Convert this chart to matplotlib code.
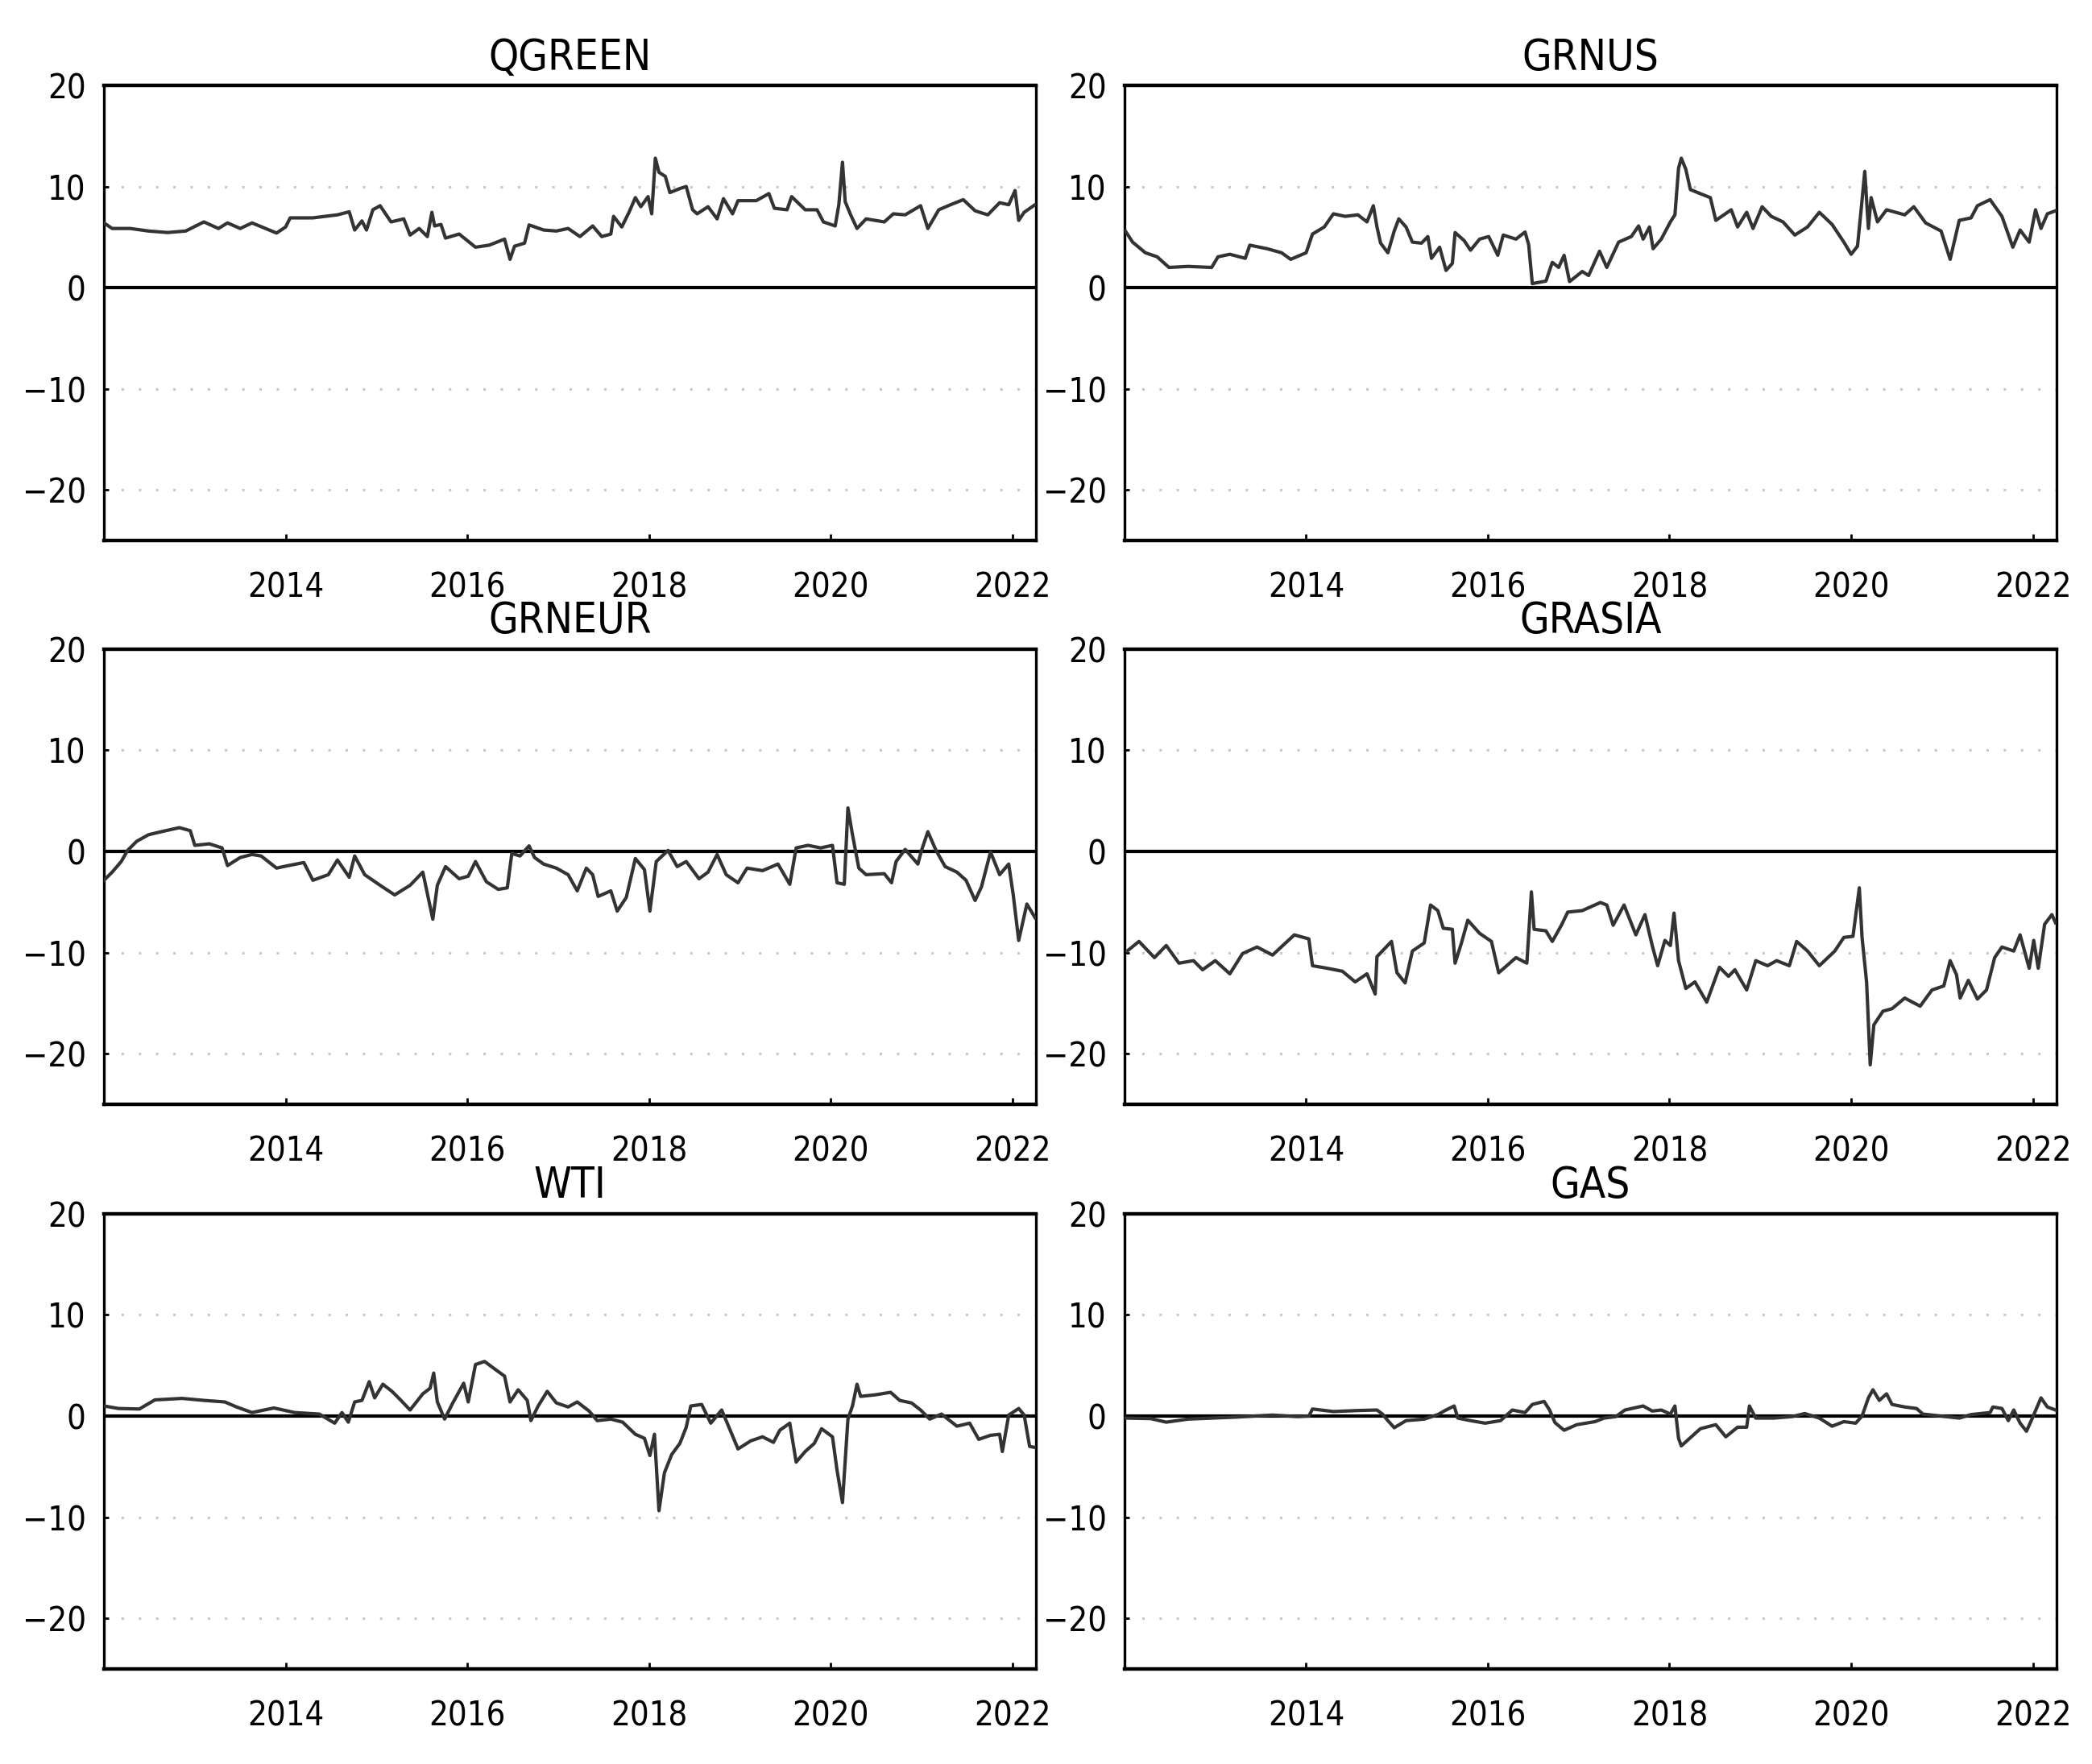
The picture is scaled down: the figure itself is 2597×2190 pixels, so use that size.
import matplotlib

matplotlib.use("Agg")
import matplotlib.pyplot as plt

plt.rcParams["font.family"] = ["DejaVu Sans"]
plt.rcParams["font.stretch"] = "condensed"

# decimal-year dates and values
qgreen_t = [2012.00, 2012.09, 2012.29, 2012.49, 2012.70, 2012.90, 2013.10, 2013.26, 2013.36, 2013.50,
            2013.63, 2013.90, 2014.00, 2014.05, 2014.30, 2014.57, 2014.70, 2014.76, 2014.84, 2014.89,
            2014.96, 2015.04, 2015.16, 2015.30, 2015.37, 2015.47, 2015.56, 2015.61, 2015.64, 2015.71,
            2015.76, 2015.91, 2016.09, 2016.24, 2016.41, 2016.47, 2016.52, 2016.63, 2016.68, 2016.84,
            2016.98, 2017.11, 2017.24, 2017.38, 2017.48, 2017.58, 2017.61, 2017.70, 2017.78, 2017.85,
            2017.91, 2017.99, 2018.03, 2018.07, 2018.11, 2018.18, 2018.23, 2018.34, 2018.41, 2018.48,
            2018.53, 2018.65, 2018.75, 2018.82, 2018.92, 2018.98, 2019.18, 2019.32, 2019.38, 2019.52,
            2019.57, 2019.72, 2019.85, 2019.92, 2020.05, 2020.09, 2020.13, 2020.16, 2020.22, 2020.29,
            2020.39, 2020.59, 2020.69, 2020.82, 2020.99, 2021.07, 2021.19, 2021.32, 2021.46, 2021.59,
            2021.73, 2021.86, 2021.96, 2022.03, 2022.07, 2022.13, 2022.25]
qgreen_v = [6.4, 5.85, 5.85, 5.6, 5.45, 5.6, 6.5, 5.85, 6.4, 5.85,
            6.4, 5.4, 6.0, 6.9, 6.9, 7.2, 7.5, 5.7, 6.6, 5.7,
            7.7, 8.1, 6.5, 6.8, 5.2, 5.85, 5.05, 7.45, 6.1, 6.25,
            4.9, 5.3, 4.0, 4.2, 4.8, 2.8, 4.1, 4.4, 6.2, 5.7,
            5.6, 5.85, 5.05, 6.1, 5.05, 5.3, 7.05, 6.0, 7.45, 8.9,
            8.0, 9.0, 7.3, 12.8, 11.4, 11.0, 9.4, 9.8, 10.0, 7.7,
            7.3, 8.0, 6.8, 8.8, 7.3, 8.6, 8.6, 9.3, 7.85, 7.7,
            9.0, 7.7, 7.7, 6.5, 6.1, 8.2, 12.4, 8.5, 7.2, 5.85,
            6.8, 6.5, 7.3, 7.2, 8.1, 5.85, 7.7, 8.2, 8.7, 7.6,
            7.2, 8.4, 8.2, 9.6, 6.65, 7.45, 8.2]

grnus_t = [2012.01, 2012.09, 2012.23, 2012.36, 2012.49, 2012.70, 2012.96, 2013.03, 2013.16, 2013.33,
           2013.38, 2013.57, 2013.73, 2013.83, 2014.00, 2014.07, 2014.20, 2014.30, 2014.43, 2014.57,
           2014.67, 2014.74, 2014.78, 2014.82, 2014.90, 2014.97, 2015.02, 2015.10, 2015.17, 2015.27,
           2015.34, 2015.38, 2015.47, 2015.54, 2015.61, 2015.64, 2015.74, 2015.81, 2015.91, 2016.01,
           2016.11, 2016.17, 2016.31, 2016.41, 2016.45, 2016.49, 2016.64, 2016.71, 2016.78, 2016.84,
           2016.90, 2017.04, 2017.11, 2017.23, 2017.31, 2017.44, 2017.58, 2017.66, 2017.71, 2017.78,
           2017.82, 2017.91, 2018.01, 2018.06, 2018.10, 2018.13, 2018.18, 2018.23, 2018.31, 2018.45,
           2018.51, 2018.68, 2018.75, 2018.85, 2018.92, 2019.02, 2019.12, 2019.25, 2019.38, 2019.52,
           2019.65, 2019.79, 2019.92, 2020.00, 2020.07, 2020.11, 2020.15, 2020.19, 2020.22, 2020.29,
           2020.39, 2020.59, 2020.69, 2020.82, 2020.99, 2021.09, 2021.19, 2021.32, 2021.39, 2021.53,
           2021.66, 2021.78, 2021.86, 2021.96, 2022.03, 2022.09, 2022.16, 2022.25]
grnus_v = [5.6, 4.5, 3.45, 3.05, 2.0, 2.1, 2.0, 3.05, 3.3, 2.9,
           4.2, 3.85, 3.45, 2.8, 3.45, 5.3, 6.0, 7.3, 7.05, 7.2,
           6.5, 8.1, 6.0, 4.4, 3.45, 5.6, 6.8, 6.0, 4.5, 4.4,
           5.05, 2.9, 4.0, 1.7, 2.4, 5.45, 4.65, 3.7, 4.8, 5.05,
           3.2, 5.2, 4.8, 5.5, 4.25, 0.4, 0.65, 2.5, 2.0, 3.2,
           0.6, 1.6, 1.2, 3.6, 2.0, 4.5, 5.05, 6.1, 4.8, 6.0,
           3.85, 4.8, 6.5, 7.2, 11.8, 12.8, 11.7, 9.7, 9.4, 8.9,
           6.65, 7.7, 6.0, 7.45, 5.85, 8.0, 7.05, 6.5, 5.2, 6.0,
           7.45, 6.25, 4.5, 3.3, 4.1, 7.7, 11.5, 5.85, 8.9, 6.5,
           7.7, 7.2, 8.0, 6.4, 5.6, 2.8, 6.65, 6.9, 8.1, 8.7,
           7.05, 4.0, 5.7, 4.5, 7.7, 5.85, 7.3, 7.6]

grneur_t = [2012.00, 2012.09, 2012.19, 2012.26, 2012.36, 2012.49, 2012.63, 2012.83, 2012.95, 2013.00,
            2013.16, 2013.30, 2013.36, 2013.50, 2013.63, 2013.73, 2013.90, 2014.03, 2014.20, 2014.30,
            2014.47, 2014.57, 2014.70, 2014.76, 2014.87, 2015.04, 2015.20, 2015.37, 2015.51, 2015.62,
            2015.67, 2015.76, 2015.91, 2016.01, 2016.09, 2016.21, 2016.34, 2016.44, 2016.49, 2016.58,
            2016.68, 2016.74, 2016.84, 2016.98, 2017.11, 2017.21, 2017.31, 2017.38, 2017.44, 2017.58,
            2017.65, 2017.75, 2017.85, 2017.95, 2018.01, 2018.08, 2018.21, 2018.31, 2018.41, 2018.55,
            2018.65, 2018.75, 2018.85, 2018.98, 2019.08, 2019.25, 2019.42, 2019.55, 2019.62, 2019.75,
            2019.89, 2020.02, 2020.07, 2020.15, 2020.19, 2020.24, 2020.31, 2020.39, 2020.59, 2020.67,
            2020.72, 2020.82, 2020.96, 2021.00, 2021.07, 2021.16, 2021.26, 2021.39, 2021.49, 2021.59,
            2021.66, 2021.76, 2021.86, 2021.96, 2022.01, 2022.07, 2022.16, 2022.25]
grneur_v = [-2.85, -2.05, -1.0, 0.1, 1.0, 1.65, 1.95, 2.35, 2.05, 0.6,
            0.75, 0.35, -1.4, -0.6, -0.3, -0.45, -1.65, -1.4, -1.1, -2.85,
            -2.3, -0.85, -2.55, -0.45, -2.3, -3.35, -4.3, -3.35, -2.05, -6.7,
            -3.35, -1.5, -2.7, -2.45, -1.0, -3.0, -3.75, -3.6, -0.2, -0.45,
            0.55, -0.6, -1.25, -1.65, -2.3, -3.9, -1.65, -2.3, -4.45, -3.9,
            -5.9, -4.55, -0.7, -1.8, -5.9, -1.0, 0.1, -1.5, -1.0, -2.7,
            -2.05, -0.3, -2.3, -3.1, -1.65, -1.9, -1.25, -3.25, 0.35, 0.6,
            0.35, 0.6, -3.1, -3.25, 4.3, 1.65, -1.65, -2.3, -2.2, -3.1,
            -1.0, 0.2, -1.25, 0.1, 1.95, 0.1, -1.5, -2.05, -2.85, -4.85,
            -3.5, -0.05, -2.3, -1.25, -4.3, -8.8, -5.2, -6.55]

grasia_t = [2012.03, 2012.16, 2012.33, 2012.46, 2012.60, 2012.76, 2012.86, 2013.00, 2013.16, 2013.30,
            2013.46, 2013.63, 2013.87, 2014.03, 2014.07, 2014.23, 2014.40, 2014.54, 2014.67, 2014.76,
            2014.78, 2014.94, 2015.00, 2015.09, 2015.17, 2015.30, 2015.37, 2015.45, 2015.51, 2015.61,
            2015.64, 2015.71, 2015.78, 2015.91, 2016.04, 2016.12, 2016.31, 2016.43, 2016.48, 2016.51,
            2016.64, 2016.71, 2016.81, 2016.88, 2017.04, 2017.24, 2017.31, 2017.38, 2017.50, 2017.63,
            2017.73, 2017.81, 2017.87, 2017.95, 2018.01, 2018.05, 2018.10, 2018.18, 2018.28, 2018.41,
            2018.55, 2018.65, 2018.72, 2018.85, 2018.95, 2019.08, 2019.18, 2019.32, 2019.40, 2019.52,
            2019.65, 2019.82, 2019.92, 2020.02, 2020.09, 2020.12, 2020.17, 2020.21, 2020.25, 2020.35,
            2020.45, 2020.59, 2020.76, 2020.89, 2021.02, 2021.09, 2021.16, 2021.20, 2021.29, 2021.39,
            2021.49, 2021.58, 2021.66, 2021.79, 2021.86, 2021.96, 2022.01, 2022.06, 2022.13, 2022.21,
            2022.25]
grasia_v = [-9.85, -8.9, -10.5, -9.3, -11.05, -10.8, -11.7, -10.8, -12.1, -10.1,
            -9.45, -10.25, -8.25, -8.65, -11.3, -11.55, -11.85, -12.9, -12.1, -14.1,
            -10.4, -8.9, -12.0, -13.0, -9.85, -9.05, -5.3, -5.85, -7.6, -7.7,
            -11.05, -9.05, -6.8, -8.1, -8.9, -12.0, -10.5, -11.05, -4.0, -7.7,
            -7.85, -8.9, -7.3, -6.0, -5.85, -5.05, -5.3, -7.3, -5.3, -8.25,
            -6.25, -9.3, -11.3, -8.8, -9.3, -6.1, -10.8, -13.55, -12.9, -14.9,
            -11.45, -12.35, -11.7, -13.7, -10.8, -11.3, -10.8, -11.3, -8.9, -9.85,
            -11.3, -9.85, -8.5, -8.4, -3.6, -8.5, -12.9, -21.1, -17.15, -15.8,
            -15.55, -14.5, -15.3, -13.7, -13.3, -10.8, -12.2, -14.5, -12.75, -14.6,
            -13.7, -10.5, -9.45, -9.85, -8.25, -11.55, -8.8, -11.55, -7.2, -6.25,
            -7.05]

wti_t = [2012.00, 2012.16, 2012.39, 2012.56, 2012.86, 2013.10, 2013.33, 2013.46, 2013.63, 2013.87,
         2014.10, 2014.37, 2014.54, 2014.62, 2014.69, 2014.76, 2014.84, 2014.92, 2014.98, 2015.07,
         2015.17, 2015.27, 2015.37, 2015.51, 2015.59, 2015.63, 2015.67, 2015.75, 2015.84, 2015.96,
         2016.01, 2016.09, 2016.19, 2016.31, 2016.41, 2016.47, 2016.56, 2016.66, 2016.70, 2016.78,
         2016.88, 2016.98, 2017.11, 2017.21, 2017.34, 2017.43, 2017.58, 2017.71, 2017.85, 2017.95,
         2018.01, 2018.06, 2018.11, 2018.17, 2018.25, 2018.34, 2018.41, 2018.46, 2018.58, 2018.68,
         2018.80, 2018.88, 2018.98, 2019.12, 2019.25, 2019.37, 2019.44, 2019.55, 2019.62, 2019.72,
         2019.82, 2019.90, 2020.02, 2020.07, 2020.13, 2020.19, 2020.24, 2020.29, 2020.33, 2020.49,
         2020.66, 2020.76, 2020.89, 2020.99, 2021.09, 2021.22, 2021.39, 2021.53, 2021.63, 2021.76,
         2021.86, 2021.89, 2021.96, 2022.07, 2022.13, 2022.19, 2022.25]
wti_v = [1.0, 0.75, 0.7, 1.6, 1.75, 1.55, 1.4, 0.9, 0.35, 0.8,
         0.35, 0.2, -0.7, 0.35, -0.6, 1.4, 1.55, 3.4, 1.8, 3.15,
         2.45, 1.55, 0.6, 2.2, 2.75, 4.25, 1.4, -0.3, 1.3, 3.25,
         1.4, 5.1, 5.4, 4.6, 3.95, 1.4, 2.6, 1.55, -0.45, 1.0,
         2.45, 1.3, 0.9, 1.4, 0.5, -0.45, -0.3, -0.6, -1.8, -2.2,
         -3.9, -1.8, -9.35, -5.6, -3.8, -2.7, -1.1, 1.0, 1.15, -0.7,
         0.6, -1.1, -3.25, -2.45, -2.05, -2.6, -1.4, -0.7, -4.55, -3.5,
         -2.7, -1.25, -2.05, -5.35, -8.55, -0.3, 1.0, 3.15, 1.95, 2.1,
         2.35, 1.55, 1.3, 0.6, -0.3, 0.2, -1.0, -0.7, -2.3, -1.9,
         -1.8, -3.5, 0.1, 0.75, 0.1, -3.0, -3.1]

gas_t = [2012.01, 2012.29, 2012.46, 2012.70, 2013.23, 2013.63, 2013.90, 2014.03, 2014.07, 2014.30,
         2014.57, 2014.78, 2014.84, 2014.90, 2014.97, 2015.10, 2015.30, 2015.45, 2015.54, 2015.63,
         2015.67, 2015.81, 2015.97, 2016.14, 2016.27, 2016.41, 2016.49, 2016.62, 2016.68, 2016.74,
         2016.84, 2016.98, 2017.18, 2017.28, 2017.41, 2017.51, 2017.71, 2017.81, 2017.91, 2018.01,
         2018.06, 2018.10, 2018.13, 2018.21, 2018.34, 2018.51, 2018.62, 2018.75, 2018.85, 2018.88,
         2018.95, 2019.15, 2019.35, 2019.49, 2019.65, 2019.79, 2019.92, 2020.05, 2020.12, 2020.19,
         2020.24, 2020.31, 2020.39, 2020.45, 2020.59, 2020.72, 2020.79, 2020.99, 2021.19, 2021.32,
         2021.53, 2021.56, 2021.66, 2021.73, 2021.79, 2021.86, 2021.93, 2021.99, 2022.09, 2022.16,
         2022.25]
gas_v = [-0.2, -0.25, -0.6, -0.3, -0.1, 0.1, -0.05, 0.0, 0.7, 0.45,
         0.55, 0.6, 0.2, -0.45, -1.15, -0.45, -0.3, 0.15, 0.6, 1.0,
         -0.2, -0.45, -0.7, -0.45, 0.6, 0.35, 1.15, 1.45, 0.6, -0.65,
         -1.4, -0.85, -0.55, -0.2, -0.05, 0.6, 1.0, 0.5, 0.6, 0.2,
         1.0, -2.2, -2.95, -2.3, -1.25, -0.85, -2.05, -1.1, -1.1, 1.0,
         -0.2, -0.2, -0.05, 0.25, -0.2, -1.0, -0.55, -0.7, 0.0, 1.8,
         2.6, 1.55, 2.2, 1.15, 0.9, 0.75, 0.2, 0.0, -0.2, 0.15,
         0.35, 0.9, 0.75, -0.45, 0.6, -0.7, -1.5, -0.3, 1.8, 0.9,
         0.6]

titles = ["QGREEN", "GRNUS", "GRNEUR", "GRASIA", "WTI", "GAS"]
series = [(qgreen_t, qgreen_v), (grnus_t, grnus_v), (grneur_t, grneur_v),
          (grasia_t, grasia_v), (wti_t, wti_v), (gas_t, gas_v)]
year_ticks = [2014, 2016, 2018, 2020, 2022]
y_ticks = [-20, -10, 0, 10, 20]

fig = plt.figure(figsize=(25.97, 21.9), dpi=100)
lefts = [0.0497, 0.5375]
width = 0.4455
bottoms = [0.6936, 0.3740, 0.0539]
height = 0.258

for i, (name, (t, v)) in enumerate(zip(titles, series)):
    ax = fig.add_axes([lefts[i % 2], bottoms[i // 2], width, height])
    for y in (-20, -10, 10):
        ax.axhline(y, color="#c8c8c8", lw=2.2, ls=(0, (1, 6)), zorder=1)
    ax.axhline(0, color="black", lw=3, zorder=2)
    ax.plot(t, v, color="#333333", lw=3.0, zorder=3)
    ax.set_xlim(2012.0, 2022.26)
    ax.set_ylim(-25, 20)
    ax.set_xticks(year_ticks)
    ax.set_yticks(y_ticks)
    ax.tick_params(axis="x", direction="in", length=6, width=2, pad=27, labelsize=30)
    ax.tick_params(axis="y", direction="in", length=4, width=2, pad=16, labelsize=30)
    for side, sp in ax.spines.items():
        sp.set_linewidth(3.2 if side in ("top", "bottom") else 2.4)
    ax.set_title(name, fontsize=38, pad=14)

fig.savefig("out.png", dpi=100)
